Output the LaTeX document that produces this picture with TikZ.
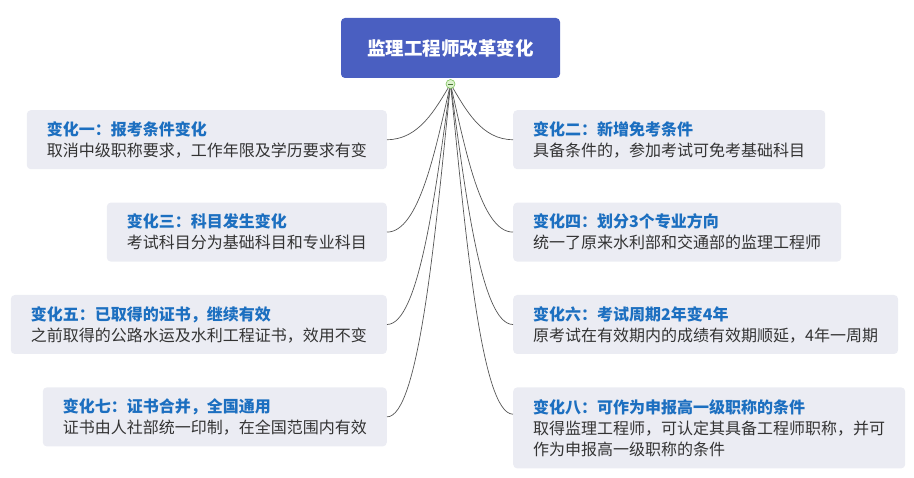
\documentclass[tikz,border=0pt]{standalone}
\usepackage{fontspec}
\setmainfont{Noto Sans CJK SC}
\usepackage{tikz}
\usetikzlibrary{positioning}
\definecolor{rtBlue}{HTML}{4A5FC1}
\definecolor{rtFill}{HTML}{EBECF3}
\definecolor{rtTitle}{HTML}{1C6FC0}
\definecolor{rtText}{HTML}{333333}
\definecolor{rtLine}{HTML}{555555}
\definecolor{rtDotFill}{HTML}{DDF2CF}
\definecolor{rtDot}{HTML}{7CC25A}
\tikzset{
  rootbox/.style={
    fill=rtBlue, rounded corners=4pt, minimum width=219pt, minimum height=60pt,
    text=white, font=\fontsize{18.5}{22}\selectfont\bfseries
  },
  changebox/.style={
    fill=rtFill, rounded corners=4pt, inner xsep=20pt, inner ysep=10pt,
    minimum height=59pt, align=left, text=rtText, font=\fontsize{16}{21}\selectfont
  },
  branch/.style={rtLine, line width=0.7pt},
  hubdot/.style={circle, draw=rtDot, fill=rtDotFill, minimum size=9pt, inner sep=0pt, line width=0.6pt}
}
\newcommand{\chgtitle}[1]{{\color{rtTitle}\bfseries #1}}

\begin{document}
\begin{tikzpicture}[x=1pt, y=-1pt]
  \useasboundingbox (0,0) rectangle (914,478);
  \node[rootbox] (root) at (450.5,48) {监理工程师改革变化};
  % left column
  \node[changebox, anchor=north east] (b1) at (387,110) {\chgtitle{变化一：报考条件变化}\\取消中级职称要求，工作年限及学历要求有变};
  \node[changebox, below=33pt of b1.south east, anchor=north east] (b3) {\chgtitle{变化三：科目发生变化}\\考试科目分为基础科目和专业科目};
  \node[changebox, below=33pt of b3.south east, anchor=north east] (b5) {\chgtitle{变化五：已取得的证书，继续有效}\\之前取得的公路水运及水利工程证书，效用不变};
  \node[changebox, below=33pt of b5.south east, anchor=north east] (b7) {\chgtitle{变化七：证书合并，全国通用}\\证书由人社部统一印制，在全国范围内有效};
  % right column
  \node[changebox, anchor=north west] (b2) at (513,110) {\chgtitle{变化二：新增免考条件}\\具备条件的，参加考试可免考基础科目};
  \node[changebox, below=33pt of b2.south west, anchor=north west] (b4) {\chgtitle{变化四：划分3个专业方向}\\统一了原来水利部和交通部的监理工程师};
  \node[changebox, below=33pt of b4.south west, anchor=north west] (b6) {\chgtitle{变化六：考试周期2年变4年}\\原考试在有效期内的成绩有效期顺延，4年一周期};
  \node[changebox, below=33pt of b6.south west, anchor=north west, minimum height=81pt] (b8) {\chgtitle{变化八：可作为申报高一级职称的条件}\\取得监理工程师，可认定其具备工程师职称，并可\\作为申报高一级职称的条件};
  % branches
  \coordinate (hub) at (450.5,84);
  \foreach \b/\d in {b1/25, b3/66, b5/108, b7/149}
    \draw[branch] (hub) .. controls +(-15,\d) and +(32,0) .. (\b.east);
  \foreach \b/\d in {b2/25, b4/66, b6/108}
    \draw[branch] (hub) .. controls +(15,\d) and +(-32,0) .. (\b.west);
  \draw[branch] (hub) .. controls +(15,148) and +(-32,0) .. ([yshift=-27pt]b8.north west);
  \node[hubdot] (dot) at (hub) {};
  \draw[rtDot!60!black, line width=0.6pt] ([xshift=-2.5pt]dot.center) -- ([xshift=2.5pt]dot.center);
\end{tikzpicture}
\end{document}
